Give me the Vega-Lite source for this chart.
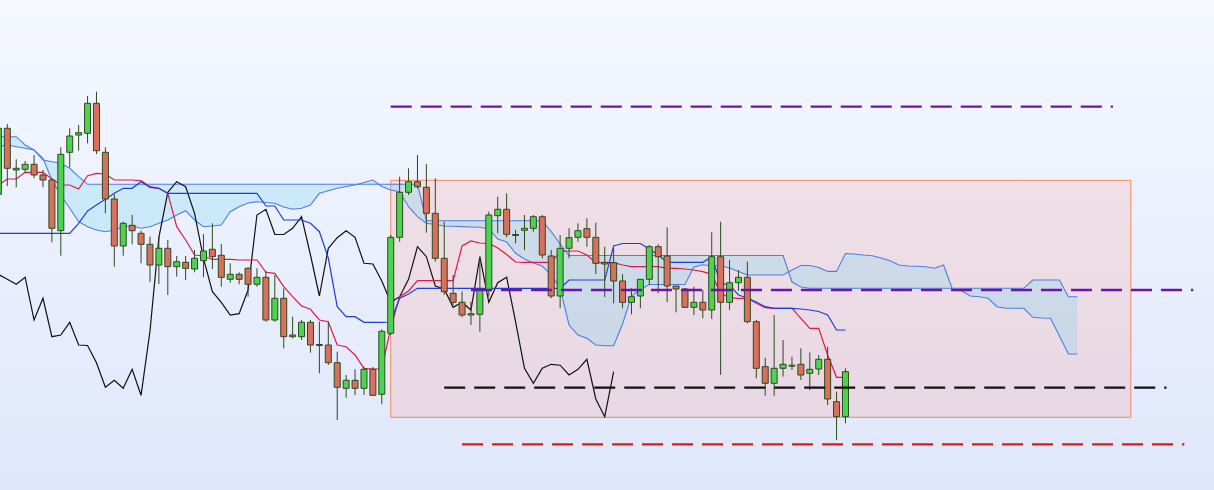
{
"$schema": "https://vega.github.io/schema/vega-lite/v6.json",
"width": 1214, "height": 490, "padding": 0,
"autosize": {"type": "none"},
"config": {"view": {"stroke": null}, "scale": {"continuousPadding": 0}},
"datasets": {
"bg": [{"x1": -0.819, "x2": 135.33, "y1": 110, "y2": 600}],
"zone": [{"i": 43, "i2": 126, "top": 419.7, "bottom": 182.7}],
"levels": [
 {"name": "top", "i": 43, "i2": 124, "p": 493.3},
 {"name": "mid", "i": 52, "i2": 133, "p": 310},
 {"name": "black", "i": 49, "i2": 130, "p": 212.3},
 {"name": "red", "i": 51, "i2": 132, "p": 155.7}],
"candles": [
{"i":-1,"o":405.7,"h":475,"l":395,"c":471.7},
{"i":0,"o":471.7,"h":476,"l":414,"c":431.7},
{"i":1,"o":430,"h":440.7,"l":412.7,"c":431.7},
{"i":2,"o":430.7,"h":439,"l":426.7,"c":435.7},
{"i":3,"o":435.7,"h":445,"l":421.7,"c":425},
{"i":4,"o":425,"h":430,"l":412.7,"c":420},
{"i":5,"o":420,"h":422,"l":357.7,"c":371.7},
{"i":6,"o":369.3,"h":452.7,"l":344.3,"c":445.7},
{"i":7,"o":447.7,"h":471.7,"l":432.7,"c":464},
{"i":8,"o":465,"h":475,"l":449.3,"c":467.3},
{"i":9,"o":466.7,"h":504,"l":456.7,"c":496.7},
{"i":10,"o":496.7,"h":508.3,"l":446,"c":449.3},
{"i":11,"o":447.7,"h":452.7,"l":386.7,"c":401},
{"i":12,"o":401,"h":405.7,"l":333.3,"c":354},
{"i":13,"o":354,"h":378.3,"l":344.3,"c":376.7},
{"i":14,"o":374.7,"h":385,"l":355.7,"c":369.3},
{"i":15,"o":366.7,"h":369.3,"l":336.7,"c":355.7},
{"i":16,"o":355.7,"h":363.3,"l":318,"c":335},
{"i":17,"o":335,"h":363.3,"l":316,"c":351.7},
{"i":18,"o":351.7,"h":360,"l":305,"c":333.3},
{"i":19,"o":333.3,"h":344,"l":323.3,"c":338.3},
{"i":20,"o":337.7,"h":344,"l":320,"c":331.7},
{"i":21,"o":331,"h":350,"l":327.7,"c":341.7},
{"i":22,"o":339.3,"h":366,"l":322.7,"c":349},
{"i":23,"o":350.7,"h":376.7,"l":331,"c":343.3},
{"i":24,"o":344.7,"h":356,"l":313.3,"c":322.7},
{"i":25,"o":320.7,"h":336.7,"l":317.3,"c":325.7},
{"i":26,"o":325.7,"h":327.7,"l":315.7,"c":320.7},
{"i":27,"o":331.7,"h":332.7,"l":303.3,"c":315.7},
{"i":28,"o":315.7,"h":331.7,"l":313.3,"c":322.7},
{"i":29,"o":322.7,"h":329.3,"l":278.3,"c":280},
{"i":30,"o":280,"h":325,"l":278.3,"c":301.7},
{"i":31,"o":301.7,"h":311.7,"l":251.7,"c":263.3},
{"i":32,"o":263.3,"h":283.3,"l":261.7,"c":265},
{"i":33,"o":263.3,"h":280,"l":260,"c":277.7},
{"i":34,"o":277.7,"h":280,"l":247.3,"c":255},
{"i":35,"o":255.5,"h":278.3,"l":226.7,"c":254.5},
{"i":36,"o":255,"h":278.3,"l":235,"c":237.3},
{"i":37,"o":237.3,"h":248.3,"l":180,"c":212.7},
{"i":38,"o":211.7,"h":225,"l":202.3,"c":219.7},
{"i":39,"o":219.7,"h":230.7,"l":205,"c":211.7},
{"i":40,"o":211.7,"h":233.3,"l":205,"c":230.7},
{"i":41,"o":230.7,"h":233,"l":204,"c":204.7},
{"i":42,"o":205.7,"h":270.7,"l":195.7,"c":268.7},
{"i":43,"o":266.7,"h":365,"l":265,"c":362.7},
{"i":44,"o":362.7,"h":423.3,"l":358.3,"c":407.7},
{"i":45,"o":407.7,"h":431.7,"l":405,"c":418.3},
{"i":46,"o":418.3,"h":445,"l":411.7,"c":413.3},
{"i":47,"o":412.7,"h":436,"l":367.3,"c":386.7},
{"i":48,"o":386.7,"h":421.7,"l":338.3,"c":341.7},
{"i":49,"o":341.7,"h":378.3,"l":305,"c":308.3},
{"i":50,"o":306.7,"h":325,"l":295,"c":297.7},
{"i":51,"o":297.7,"h":308.3,"l":282.7,"c":285},
{"i":52,"o":285,"h":298.3,"l":275,"c":286.3},
{"i":53,"o":285.7,"h":343.3,"l":268.3,"c":310},
{"i":54,"o":310,"h":388.3,"l":303.3,"c":385},
{"i":55,"o":384.3,"h":403.3,"l":366.7,"c":390.7},
{"i":56,"o":390.7,"h":406.7,"l":362.7,"c":365.7},
{"i":57,"o":364.5,"h":370,"l":356.7,"c":365.5},
{"i":58,"o":369.7,"h":385,"l":350,"c":371.7},
{"i":59,"o":371.7,"h":385,"l":368.3,"c":383.3},
{"i":60,"o":383.3,"h":385,"l":341.7,"c":345},
{"i":61,"o":344,"h":350,"l":301.7,"c":304},
{"i":62,"o":304,"h":365,"l":291.7,"c":351.7},
{"i":63,"o":351.7,"h":371.7,"l":341.7,"c":362.3},
{"i":64,"o":362.7,"h":376.7,"l":358.3,"c":369.3},
{"i":65,"o":371.3,"h":381.7,"l":353.3,"c":362.7},
{"i":66,"o":362.7,"h":377.3,"l":326,"c":336.7},
{"i":67,"o":337.7,"h":353.3,"l":303,"c":336},
{"i":68,"o":337.3,"h":352,"l":296.7,"c":319},
{"i":69,"o":319,"h":325.7,"l":291.7,"c":297.7},
{"i":70,"o":297.7,"h":311.7,"l":285.7,"c":303.3},
{"i":71,"o":304,"h":321,"l":291.7,"c":320.7},
{"i":72,"o":320.7,"h":355,"l":315,"c":353.3},
{"i":73,"o":353.3,"h":355.7,"l":306.7,"c":343.3},
{"i":74,"o":344,"h":372.7,"l":297.7,"c":314},
{"i":75,"o":314,"h":314,"l":287.7,"c":311},
{"i":76,"o":311,"h":312,"l":292,"c":292.7},
{"i":77,"o":292.7,"h":313.3,"l":285,"c":297.7},
{"i":78,"o":297.7,"h":310,"l":281.7,"c":290},
{"i":79,"o":290,"h":367.7,"l":281,"c":343.3},
{"i":80,"o":343.3,"h":378.3,"l":225,"c":297.7},
{"i":81,"o":297.7,"h":340,"l":290,"c":317.3},
{"i":82,"o":317.3,"h":330,"l":309,"c":322.7},
{"i":83,"o":322.7,"h":338.3,"l":276.7,"c":278.3},
{"i":84,"o":278.3,"h":280,"l":221.7,"c":231.7},
{"i":85,"o":233.3,"h":242.3,"l":204.3,"c":216.7},
{"i":86,"o":216.7,"h":285,"l":204.3,"c":231.7},
{"i":87,"o":231.7,"h":260,"l":223.3,"c":235.7},
{"i":88,"o":233.8,"h":243.3,"l":230,"c":234.8},
{"i":89,"o":235.7,"h":251.7,"l":220,"c":225},
{"i":90,"o":226.7,"h":247.7,"l":210,"c":230.7},
{"i":91,"o":231,"h":245,"l":225,"c":240.7},
{"i":92,"o":240.7,"h":253.3,"l":195,"c":201},
{"i":93,"o":198.3,"h":208.3,"l":160,"c":183.3},
{"i":94,"o":183.3,"h":231.7,"l":176.7,"c":228.3}],
"ichi": [
{"i":-1,"t":415,"k":366.7},{"i":0,"t":421,"k":366.7},{"i":1,"t":421,"k":366.7},{"i":2,"t":427.7,"k":366.7},
{"i":3,"t":427.7,"k":366.7},{"i":4,"t":427.7,"k":366.7},{"i":5,"t":421,"k":366.7},{"i":6,"t":415,"k":366.7},
{"i":7,"t":415,"k":366.7},{"i":8,"t":411,"k":376.7},{"i":9,"t":424.3,"k":389},{"i":10,"t":426.7,"k":395},
{"i":11,"t":426,"k":400.7},{"i":12,"t":420,"k":406.7},{"i":13,"t":420,"k":411.7},{"i":14,"t":420,"k":411.7},
{"i":15,"t":419.3,"k":418.3},{"i":16,"t":413.3,"k":412.7},{"i":17,"t":411.7,"k":411.7},{"i":18,"t":406.7,"k":406.7},
{"i":19,"t":373.3,"k":406.7},{"i":20,"t":360,"k":406.7},{"i":21,"t":345,"k":406.7},{"i":22,"t":344,"k":406.7},
{"i":23,"t":340.7,"k":406.7},{"i":24,"t":340.7,"k":406.7},{"i":25,"t":340.7,"k":406.7},{"i":26,"t":340,"k":406.7},
{"i":27,"t":340,"k":406.7},{"i":28,"t":340,"k":406.7},{"i":29,"t":327.7,"k":394},{"i":30,"t":326.7,"k":394},
{"i":31,"t":313.3,"k":380},{"i":32,"t":303.3,"k":380},{"i":33,"t":294,"k":380},{"i":34,"t":290.7,"k":376.7},
{"i":35,"t":280,"k":368.3},{"i":36,"t":278.3,"k":342},{"i":37,"t":255,"k":293.3},{"i":38,"t":253.3,"k":283.3},
{"i":39,"t":245,"k":283.3},{"i":40,"t":231.7,"k":277.7},{"i":41,"t":231,"k":277.7},{"i":42,"t":231,"k":277.7},
{"i":43,"t":272,"k":278},{"i":44,"t":303.3,"k":301.7},{"i":45,"t":309,"k":306},{"i":46,"t":319.3,"k":311.7},
{"i":47,"t":319.3,"k":311.7},{"i":48,"t":319.3,"k":311.7},{"i":49,"t":319.3,"k":311.7},{"i":50,"t":319.3,"k":311.7},
{"i":51,"t":354,"k":311.7},{"i":52,"t":359,"k":311.7},{"i":53,"t":357,"k":311.7},{"i":54,"t":356.7,"k":311.7},
{"i":55,"t":352,"k":311.7},{"i":56,"t":345.5,"k":311.7},{"i":57,"t":338,"k":311.7},{"i":58,"t":337.7,"k":311.7},
{"i":59,"t":337.7,"k":311.7},{"i":60,"t":337.7,"k":311.7},{"i":61,"t":337.7,"k":311.7},{"i":62,"t":348.3,"k":311.7},
{"i":63,"t":349,"k":320},{"i":64,"t":349,"k":320},{"i":65,"t":345,"k":320},{"i":66,"t":337.3,"k":320},
{"i":67,"t":337.3,"k":320},{"i":68,"t":337.3,"k":354},{"i":69,"t":335,"k":356.5},{"i":70,"t":333.3,"k":356.5},
{"i":71,"t":333.3,"k":356.5},{"i":72,"t":333.3,"k":351},{"i":73,"t":333.3,"k":345},{"i":74,"t":331.7,"k":337.7},
{"i":75,"t":331.7,"k":337.7},{"i":76,"t":331,"k":337.7},{"i":77,"t":330,"k":337.7},{"i":78,"t":328.3,"k":337.7},
{"i":79,"t":325.7,"k":343},{"i":80,"t":306.7,"k":316.7},{"i":81,"t":302.3,"k":315},{"i":82,"t":301.7,"k":305},
{"i":83,"t":301.7,"k":302},{"i":84,"t":296.7,"k":298},{"i":85,"t":292.3,"k":293.3},{"i":86,"t":291.7,"k":291.7},
{"i":87,"t":291.7,"k":291.7},{"i":88,"t":291.7,"k":291.7},{"i":89,"t":281.7,"k":291},{"i":90,"t":271.7,"k":290},
{"i":91,"t":271.7,"k":288.5},{"i":92,"t":245,"k":285},{"i":93,"t":222.7,"k":270},{"i":94,"t":222.7,"k":270}],
"chikou": [
{"i":-1,"p":325.7},{"i":0,"p":320.7},{"i":1,"p":315.7},{"i":2,"p":322.7},{"i":3,"p":280},{"i":4,"p":301.7},
{"i":5,"p":263.3},{"i":6,"p":265},{"i":7,"p":277.7},{"i":8,"p":255},{"i":9,"p":254.5},{"i":10,"p":237.3},
{"i":11,"p":212.7},{"i":12,"p":219.7},{"i":13,"p":211.7},{"i":14,"p":230.7},{"i":15,"p":204.7},{"i":16,"p":268.7},
{"i":17,"p":362.7},{"i":18,"p":407.7},{"i":19,"p":418.3},{"i":20,"p":413.3},{"i":21,"p":386.7},{"i":22,"p":341.7},
{"i":23,"p":308.3},{"i":24,"p":297.7},{"i":25,"p":285},{"i":26,"p":286.3},{"i":27,"p":310},{"i":28,"p":385},
{"i":29,"p":390.7},{"i":30,"p":365.7},{"i":31,"p":365.5},{"i":32,"p":371.7},{"i":33,"p":383.3},{"i":34,"p":345},
{"i":35,"p":304},{"i":36,"p":351.7},{"i":37,"p":362.3},{"i":38,"p":369.3},{"i":39,"p":362.7},{"i":40,"p":336.7},
{"i":41,"p":336},{"i":42,"p":319},{"i":43,"p":297.7},{"i":44,"p":303.3},{"i":45,"p":320.7},{"i":46,"p":353.3},
{"i":47,"p":343.3},{"i":48,"p":314},{"i":49,"p":311},{"i":50,"p":292.7},{"i":51,"p":297.7},{"i":52,"p":290},
{"i":53,"p":343.3},{"i":54,"p":297.7},{"i":55,"p":317.3},{"i":56,"p":322.7},{"i":57,"p":278.3},{"i":58,"p":231.7},
{"i":59,"p":216.7},{"i":60,"p":231.7},{"i":61,"p":235.7},{"i":62,"p":234.8},{"i":63,"p":225},{"i":64,"p":230.7},
{"i":65,"p":240.7},{"i":66,"p":201},{"i":67,"p":183.3},{"i":68,"p":228.3}],
"cloud": [
{"i":-1,"a":453.3,"b":463.3},{"i":0,"a":455,"b":463.3},{"i":1,"a":453.3,"b":463.3},{"i":2,"a":451.7,"b":455},
{"i":3,"a":450,"b":450},{"i":4,"a":441.7,"b":440},{"i":5,"a":420,"b":438.3},{"i":6,"a":405,"b":436.7},
{"i":7,"a":391.7,"b":431.7},{"i":8,"a":378.3,"b":423.3},{"i":9,"a":373.3,"b":415.7},{"i":10,"a":370,"b":415.7},
{"i":11,"a":368.3,"b":415.7},{"i":12,"a":370,"b":415.7},{"i":13,"a":373.3,"b":415.7},{"i":14,"a":374,"b":415.7},
{"i":15,"a":371.7,"b":415.7},{"i":16,"a":373.3,"b":415.7},{"i":17,"a":376.7,"b":415.7},{"i":18,"a":380,"b":415.7},
{"i":19,"a":385,"b":415.7},{"i":20,"a":389.3,"b":415.7},{"i":21,"a":380,"b":415.7},{"i":22,"a":373.3,"b":415.7},
{"i":23,"a":374,"b":415.7},{"i":24,"a":375,"b":415.7},{"i":25,"a":388.3,"b":415.7},{"i":26,"a":393.3,"b":415.7},
{"i":27,"a":397,"b":415.7},{"i":28,"a":398.3,"b":415.7},{"i":29,"a":397.5,"b":415.7},{"i":30,"a":396.7,"b":415.7},
{"i":31,"a":393,"b":415.7},{"i":32,"a":390.7,"b":415.7},{"i":33,"a":391.7,"b":415.7},{"i":34,"a":395,"b":415.7},
{"i":35,"a":406.7,"b":415.7},{"i":36,"a":409.3,"b":415.7},{"i":37,"a":411.7,"b":415.7},{"i":38,"a":413.5,"b":415.7},
{"i":39,"a":415,"b":415.7},{"i":40,"a":417.5,"b":415.7},{"i":41,"a":420,"b":415.7},{"i":42,"a":413.5,"b":415.7},
{"i":43,"a":410,"b":415.7},{"i":44,"a":408.3,"b":415.7},{"i":45,"a":393.3,"b":415.7},{"i":46,"a":383.3,"b":415.7},
{"i":47,"a":376.7,"b":379.3},{"i":48,"a":375.5,"b":379.3},{"i":49,"a":374,"b":379.3},{"i":50,"a":373.7,"b":379.3},
{"i":51,"a":373.4,"b":379.3},{"i":52,"a":373,"b":379.3},{"i":53,"a":372.7,"b":379.3},{"i":54,"a":371,"b":379.3},
{"i":55,"a":361,"b":379.3},{"i":56,"a":358,"b":379.3},{"i":57,"a":346.7,"b":379.3},{"i":58,"a":341,"b":379.3},
{"i":59,"a":337,"b":379.3},{"i":60,"a":334,"b":379.3},{"i":61,"a":325,"b":368.3},{"i":62,"a":311.7,"b":356},
{"i":63,"a":275,"b":344.5},{"i":64,"a":265,"b":344.5},{"i":65,"a":261.7,"b":344.5},{"i":66,"a":255,"b":344.5},
{"i":67,"a":254.3,"b":344.5},{"i":68,"a":254.3,"b":344.5},{"i":69,"a":276,"b":344.5},{"i":70,"a":303.6,"b":344.5},
{"i":71,"a":310.5,"b":344.5},{"i":72,"a":315.5,"b":344.5},{"i":73,"a":315.5,"b":344.5},{"i":74,"a":315.5,"b":344.5},
{"i":75,"a":315.5,"b":344.5},{"i":76,"a":315.5,"b":344.5},{"i":77,"a":333,"b":344.5},{"i":78,"a":335.3,"b":344.5},
{"i":79,"a":334.3,"b":344.5},{"i":80,"a":334.3,"b":344.5},{"i":81,"a":332,"b":344.5},{"i":82,"a":328.6,"b":344.5},
{"i":83,"a":325,"b":344.5},{"i":84,"a":325,"b":344.5},{"i":85,"a":325,"b":344.5},{"i":86,"a":325,"b":344.5},
{"i":87,"a":325,"b":344.5},{"i":88,"a":330,"b":318},{"i":89,"a":334.5,"b":313},{"i":90,"a":334.5,"b":311.7},
{"i":91,"a":332.5,"b":311.7},{"i":92,"a":328.6,"b":311.7},{"i":93,"a":328.6,"b":311.7},{"i":94,"a":346.5,"b":311.7},
{"i":95,"a":346,"b":311.7},{"i":96,"a":345,"b":311.7},{"i":97,"a":344.3,"b":311.7},{"i":98,"a":342,"b":311.7},
{"i":99,"a":339.3,"b":311.7},{"i":100,"a":335,"b":311.7},{"i":101,"a":334,"b":311.7},{"i":102,"a":333.7,"b":311.7},
{"i":103,"a":333.3,"b":311.7},{"i":104,"a":331.7,"b":311.7},{"i":105,"a":335,"b":311.7},{"i":106,"a":310.7,"b":311.7},
{"i":107,"a":309.3,"b":311.7},{"i":108,"a":304,"b":311.7},{"i":109,"a":303.3,"b":311.7},{"i":110,"a":301.7,"b":311.7},
{"i":111,"a":293.3,"b":311.7},{"i":112,"a":291.7,"b":311.7},{"i":113,"a":291.7,"b":311.7},{"i":114,"a":291.7,"b":311.7},
{"i":115,"a":282.7,"b":320},{"i":116,"a":282,"b":320},{"i":117,"a":281.7,"b":320},{"i":118,"a":264,"b":320},
{"i":119,"a":246,"b":303.3},{"i":120,"a":246,"b":303.3}]
},
"layer": [
 {"data": {"name": "bg"},
  "mark": {"type": "rect", "clip": true, "fill": {"gradient": "linear", "x1": 0, "y1": 0, "x2": 0, "y2": 1, "stops": [{"offset": 0, "color": "#f5f8ff"}, {"offset": 1, "color": "#dfe7fb"}]}},
  "encoding": {
   "x": {"field": "x1", "type": "quantitative", "scale": {"domain": [-0.819, 135.33], "nice": false, "zero": false, "padding": 0}, "axis": null},
   "x2": {"field": "x2"},
   "y": {"field": "y1", "type": "quantitative", "scale": {"domain": [110, 600], "nice": false, "zero": false}, "axis": null},
   "y2": {"field": "y2"}}},
 {"data": {"name": "zone"},
  "mark": {"type": "rect", "clip": true, "fill": "#ff8c78", "fillOpacity": 0.18, "stroke": "#f08a5c", "strokeWidth": 1},
  "encoding": {
   "x": {"field": "i", "type": "quantitative", "scale": {"domain": [-0.819, 135.33], "nice": false, "zero": false, "padding": 0}, "axis": null},
   "x2": {"field": "i2"},
   "y": {"field": "top", "type": "quantitative", "scale": {"domain": [110, 600], "nice": false, "zero": false}, "axis": null},
   "y2": {"field": "bottom"}}},
 {"data": {"name": "cloud"},
  "mark": {"type": "area", "clip": true, "fill": "#76d4f1", "fillOpacity": 0.27},
  "encoding": {
   "x": {"field": "i", "type": "quantitative", "scale": {"domain": [-0.819, 135.33], "nice": false, "zero": false, "padding": 0}, "axis": null},
   "y": {"field": "a", "type": "quantitative", "scale": {"domain": [110, 600], "nice": false, "zero": false}, "axis": null},
   "y2": {"field": "b"}}},
 {"data": {"name": "cloud"},
  "mark": {"type": "line", "clip": true, "color": "#4a7fe6", "strokeWidth": 1.1},
  "encoding": {
   "x": {"field": "i", "type": "quantitative", "scale": {"domain": [-0.819, 135.33], "nice": false, "zero": false, "padding": 0}, "axis": null},
   "y": {"field": "a", "type": "quantitative", "scale": {"domain": [110, 600], "nice": false, "zero": false}, "axis": null}}},
 {"data": {"name": "cloud"},
  "mark": {"type": "line", "clip": true, "color": "#4a7fe6", "strokeWidth": 1.1},
  "encoding": {
   "x": {"field": "i", "type": "quantitative", "scale": {"domain": [-0.819, 135.33], "nice": false, "zero": false, "padding": 0}, "axis": null},
   "y": {"field": "b", "type": "quantitative", "scale": {"domain": [110, 600], "nice": false, "zero": false}, "axis": null}}},
 {"data": {"name": "chikou"},
  "mark": {"type": "line", "clip": true, "color": "#111111", "strokeWidth": 1.2},
  "encoding": {
   "x": {"field": "i", "type": "quantitative", "scale": {"domain": [-0.819, 135.33], "nice": false, "zero": false, "padding": 0}, "axis": null},
   "y": {"field": "p", "type": "quantitative", "scale": {"domain": [110, 600], "nice": false, "zero": false}, "axis": null}}},
 {"data": {"name": "ichi"},
  "mark": {"type": "line", "clip": true, "color": "#e2184a", "strokeWidth": 1.2},
  "encoding": {
   "x": {"field": "i", "type": "quantitative", "scale": {"domain": [-0.819, 135.33], "nice": false, "zero": false, "padding": 0}, "axis": null},
   "y": {"field": "t", "type": "quantitative", "scale": {"domain": [110, 600], "nice": false, "zero": false}, "axis": null}}},
 {"data": {"name": "ichi"},
  "mark": {"type": "line", "clip": true, "color": "#1f3ed6", "strokeWidth": 1.2},
  "encoding": {
   "x": {"field": "i", "type": "quantitative", "scale": {"domain": [-0.819, 135.33], "nice": false, "zero": false, "padding": 0}, "axis": null},
   "y": {"field": "k", "type": "quantitative", "scale": {"domain": [110, 600], "nice": false, "zero": false}, "axis": null}}},
 {"data": {"name": "candles"},
  "mark": {"type": "rule", "clip": true, "color": "#2d4a1e", "strokeWidth": 1},
  "encoding": {
   "x": {"field": "i", "type": "quantitative", "scale": {"domain": [-0.819, 135.33], "nice": false, "zero": false, "padding": 0}, "axis": null},
   "y": {"field": "l", "type": "quantitative", "scale": {"domain": [110, 600], "nice": false, "zero": false}, "axis": null},
   "y2": {"field": "h"}}},
 {"data": {"name": "candles"},
  "mark": {"type": "bar", "clip": true, "orient": "vertical", "size": 6, "stroke": "#2d4a1e", "strokeWidth": 1},
  "encoding": {
   "x": {"field": "i", "type": "quantitative", "scale": {"domain": [-0.819, 135.33], "nice": false, "zero": false, "padding": 0}, "axis": null},
   "y": {"field": "o", "type": "quantitative", "scale": {"domain": [110, 600], "nice": false, "zero": false}, "axis": null},
   "y2": {"field": "c"},
   "color": {"condition": {"test": "datum.c >= datum.o", "value": "#4fd24f"}, "value": "#d9705e"}}},
 {"data": {"name": "levels"},
  "mark": {"type": "rule", "clip": true, "strokeWidth": 2.3, "strokeDash": [21, 9]},
  "encoding": {
   "x": {"field": "i", "type": "quantitative", "scale": {"domain": [-0.819, 135.33], "nice": false, "zero": false, "padding": 0}, "axis": null},
   "x2": {"field": "i2"},
   "y": {"field": "p", "type": "quantitative", "scale": {"domain": [110, 600], "nice": false, "zero": false}, "axis": null},
   "color": {"field": "name", "type": "nominal", "legend": null, "scale": {"domain": ["top", "mid", "black", "red"], "range": ["#7012b0", "#7012b0", "#111111", "#e01818"]}}}}
]
}
